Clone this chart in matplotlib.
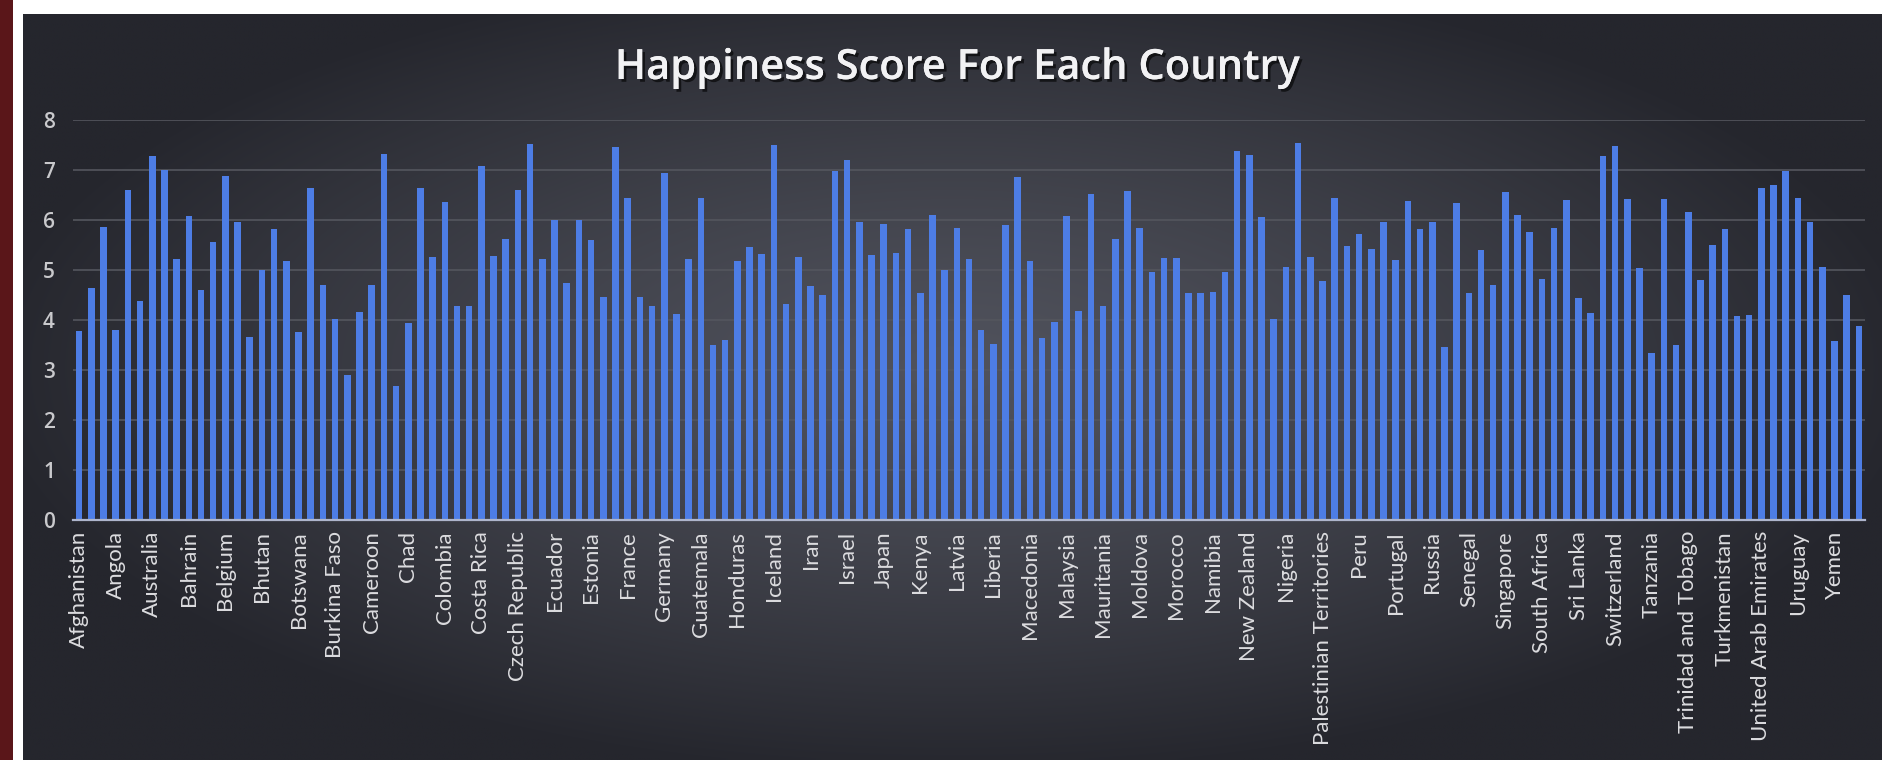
import numpy as np
import matplotlib
matplotlib.use('Agg')
import matplotlib.pyplot as plt
from matplotlib.patches import Rectangle
import matplotlib.patheffects as pe

# World happiness scores, alphabetical order as in the chart
countries = [
    'Afghanistan', 'Albania', 'Algeria', 'Angola', 'Argentina', 'Armenia',
    'Australia', 'Austria', 'Azerbaijan', 'Bahrain', 'Bangladesh', 'Belarus',
    'Belgium', 'Belize', 'Benin', 'Bhutan', 'Bolivia', 'Bosnia and Herzegovina',
    'Botswana', 'Brazil', 'Bulgaria', 'Burkina Faso', 'Burundi', 'Cambodia',
    'Cameroon', 'Canada', 'Central African Republic', 'Chad', 'Chile', 'China',
    'Colombia', 'Congo (Brazzaville)', 'Congo (Kinshasa)', 'Costa Rica', 'Croatia', 'Cyprus',
    'Czech Republic', 'Denmark', 'Dominican Republic', 'Ecuador', 'Egypt', 'El Salvador',
    'Estonia', 'Ethiopia', 'Finland', 'France', 'Gabon', 'Georgia',
    'Germany', 'Ghana', 'Greece', 'Guatemala', 'Guinea', 'Haiti',
    'Honduras', 'Hong Kong', 'Hungary', 'Iceland', 'India', 'Indonesia',
    'Iran', 'Iraq', 'Ireland', 'Israel', 'Italy', 'Jamaica',
    'Japan', 'Jordan', 'Kazakhstan', 'Kenya', 'Kuwait', 'Kyrgyzstan',
    'Latvia', 'Lebanon', 'Lesotho', 'Liberia', 'Lithuania', 'Luxembourg',
    'Macedonia', 'Madagascar', 'Malawi', 'Malaysia', 'Mali', 'Malta',
    'Mauritania', 'Mauritius', 'Mexico', 'Moldova', 'Mongolia', 'Montenegro',
    'Morocco', 'Mozambique', 'Myanmar', 'Namibia', 'Nepal', 'Netherlands',
    'New Zealand', 'Nicaragua', 'Niger', 'Nigeria', 'Norway', 'Pakistan',
    'Palestinian Territories', 'Panama', 'Paraguay', 'Peru', 'Philippines', 'Poland',
    'Portugal', 'Qatar', 'Romania', 'Russia', 'Rwanda', 'Saudi Arabia',
    'Senegal', 'Serbia', 'Sierra Leone', 'Singapore', 'Slovakia', 'Slovenia',
    'South Africa', 'South Korea', 'Spain', 'Sri Lanka', 'Sudan', 'Sweden',
    'Switzerland', 'Taiwan', 'Tajikistan', 'Tanzania', 'Thailand', 'Togo',
    'Trinidad and Tobago', 'Tunisia', 'Turkey', 'Turkmenistan', 'Uganda', 'Ukraine',
    'United Arab Emirates', 'United Kingdom', 'United States', 'Uruguay', 'Uzbekistan', 'Vietnam',
    'Yemen', 'Zambia', 'Zimbabwe',
]

scores = [
    3.79, 4.64, 5.87, 3.80, 6.60, 4.38,
    7.28, 7.01, 5.23, 6.09, 4.61, 5.57,
    6.89, 5.96, 3.66, 5.01, 5.82, 5.18,
    3.77, 6.64, 4.71, 4.03, 2.91, 4.17,
    4.70, 7.32, 2.69, 3.94, 6.65, 5.27,
    6.36, 4.29, 4.28, 7.08, 5.29, 5.62,
    6.61, 7.52, 5.23, 6.01, 4.74, 6.00,
    5.61, 4.46, 7.47, 6.44, 4.47, 4.29,
    6.95, 4.12, 5.23, 6.45, 3.51, 3.60,
    5.18, 5.47, 5.32, 7.50, 4.32, 5.26,
    4.69, 4.50, 6.98, 7.21, 5.96, 5.31,
    5.92, 5.34, 5.82, 4.55, 6.11, 5.00,
    5.85, 5.23, 3.81, 3.53, 5.90, 6.86,
    5.18, 3.64, 3.97, 6.08, 4.19, 6.53,
    4.29, 5.63, 6.58, 5.84, 4.96, 5.24,
    5.24, 4.55, 4.55, 4.57, 4.96, 7.38,
    7.31, 6.07, 4.03, 5.07, 7.54, 5.27,
    4.78, 6.45, 5.49, 5.72, 5.43, 5.97,
    5.20, 6.38, 5.83, 5.96, 3.47, 6.34,
    4.54, 5.40, 4.71, 6.57, 6.10, 5.76,
    4.83, 5.84, 6.40, 4.44, 4.14, 7.28,
    7.49, 6.42, 5.04, 3.35, 6.42, 3.50,
    6.17, 4.81, 5.50, 5.82, 4.08, 4.10,
    6.65, 6.71, 6.99, 6.45, 5.97, 5.07,
    3.59, 4.51, 3.88,
]

y_ticks = [0, 1, 2, 3, 4, 5, 6, 7, 8]
title = 'Happiness Score For Each Country'

W, H = 1882, 760
fig = plt.figure(figsize=(W / 100, H / 100), dpi=100, facecolor='white')

# red strip on the left edge of the slide
fig.patches.append(Rectangle((0, 0), 13 / W, 1, transform=fig.transFigure,
                             facecolor='#5a1619', edgecolor='none', zorder=0))

# dark radial gradient background of the chart
bg = fig.add_axes([23 / W, 0, 1 - 23 / W, (H - 14) / H])
bg.set_axis_off()
gx, gy = np.meshgrid(np.linspace(-1, 1, 400), np.linspace(-1, 1, 200))
r = np.sqrt((gx / 1.05) ** 2 + ((gy + 0.05) / 1.1) ** 2)
r = np.clip(r, 0, 1)
inner = np.array([0x50, 0x52, 0x5c]) / 255
outer = np.array([0x25, 0x26, 0x2d]) / 255
k = r[..., None] ** 1.3
img = inner[None, None, :] * (1 - k) + outer[None, None, :] * k
bg.imshow(img, aspect='auto', extent=[0, 1, 0, 1], interpolation='bilinear')

ax = fig.add_axes([73 / W, 240 / H, (1865 - 73) / W, 400 / H])
ax.set_facecolor('none')

x = np.arange(len(countries))
ax.bar(x, scores, width=0.54, color='#4d7de5', edgecolor='none', zorder=3)

ax.set_xlim(-0.5, len(countries) - 0.5)
ax.set_ylim(0, 8)
ax.set_yticks(y_ticks)
ax.set_yticklabels([str(t) for t in y_ticks], fontsize=15, color='#c9c9cc',
                   family='Open Sans', fontweight='semibold')
ax.grid(True, axis='y', color='#54565e', linewidth=1.2, zorder=0)
ax.set_axisbelow(True)

ax.set_xticks(x[::3])
ax.set_xticklabels(countries[::3], rotation=90, fontsize=16, color='#dcdcdf',
                   family='Lato')
ax.tick_params(axis='both', length=0)
ax.tick_params(axis='x', pad=8)
ax.tick_params(axis='y', pad=13)

for side in ['top', 'right', 'left']:
    ax.spines[side].set_visible(False)
ax.spines['bottom'].set_color('#aeb5cc')
ax.spines['bottom'].set_linewidth(1.6)
ax.spines['bottom'].set_zorder(4)

fig.text(957 / W, 1 - 68 / H, title, ha='center', va='center', fontsize=30,
         fontweight='semibold', family='Open Sans', color='#f2f2f4',
         path_effects=[pe.withSimplePatchShadow(offset=(2, -2), shadow_rgbFace='black', alpha=0.6),
                       pe.Normal()])

fig.savefig('out.png', dpi=100, facecolor=fig.get_facecolor())
